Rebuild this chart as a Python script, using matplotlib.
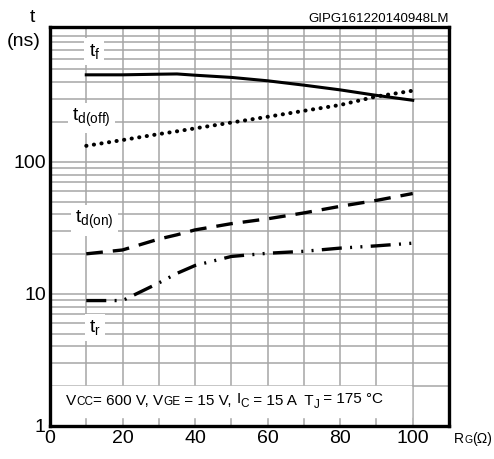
import numpy as np
import matplotlib
matplotlib.use('Agg')
import matplotlib.pyplot as plt

plt.rcParams['font.family'] = ['Liberation Sans', 'DejaVu Sans']
plt.rcParams['mathtext.fontset'] = 'custom'
plt.rcParams['mathtext.rm'] = 'Liberation Sans'

# data (RG in ohm, t in ns)
rg = [10, 20, 30, 35, 40, 50, 60, 70, 80, 90, 100]
tf = [455, 455, 460, 462, 452, 435, 410, 380, 350, 318, 292]
td_off = [132, 146, 162, 170, 179, 198, 219, 243, 269, 312, 345]
td_on = [20.1, 21.5, 26, 28, 30.5, 34, 37, 41, 46, 51, 57.5]
tr = [8.9, 8.9, 12.1, 14.3, 16.4, 19.2, 20.3, 21.0, 22.2, 23.1, 24.2]

xticks = [0, 20, 40, 60, 80, 100]
yticks = [1, 10, 100]

W, H = 494, 459
fig = plt.figure(figsize=(W/100, H/100), dpi=100)
ax = fig.add_axes([50/W, 33/H, 399/W, 399/H])
renderer = fig.canvas.get_renderer()


def rich(x0, y0, pieces, zorder=5):
    """write text pieces one after another, starting at pixel (x0, y0)"""
    x = x0
    for s, size, dy in pieces:
        t = fig.text(x/W, 1-(y0-dy)/H, s, fontsize=size, ha='left',
                     va='baseline', zorder=zorder)
        x += t.get_window_extent(renderer).width


# grid
grid_c = '#a6a6a6'
for x in range(10, 110, 10):
    ax.axvline(x, color=grid_c, lw=1.1, zorder=1)
for dec in [1, 10, 100]:
    for m in range(1, 10):
        v = dec*m
        if 1 < v < 1050:
            ax.axhline(v, color=grid_c, lw=1.1, zorder=1)

# curves
ax.plot(rg, tf, color='k', lw=2.2, zorder=3)
ax.plot(rg, td_off, color='k', lw=2.9, ls=(0, (0.05, 1.85)),
        dash_capstyle='round', zorder=3)
ax.plot(rg, td_on, color='k', lw=2.4, ls=(0, (5, 3)), zorder=3)
ax.plot(rg, tr, color='k', lw=2.4,
        ls=(0, (6, 2.5, 0.6, 2.5, 0.6, 2.5)), zorder=3)

# curve labels
box = dict(fc='w', ec='none', pad=3)
ax.text(12.2, 680, r'$\mathregular{t_f}$', fontsize=14, ha='center',
        va='center', bbox=box, zorder=4)
ax.text(11.4, 215, r'$\mathregular{t_{d(off)}}$', fontsize=14, ha='center',
        va='center', bbox=box, zorder=4)
ax.text(12.2, 36, r'$\mathregular{t_{d(on)}}$', fontsize=14, ha='center',
        va='center', bbox=box, zorder=4)
ax.text(12.5, 5.6, r'$\mathregular{t_r}$', fontsize=14, ha='center',
        va='center', bbox=box, zorder=4)

# conditions box
ax.fill_between([0.3, 99.6], 2.0, 1.16, color='w', zorder=2)
rich(66, 405, [('V', 11, 0), ('CC', 8.5, 0), ('= 600 V, V', 11, 0),
               ('GE', 8.5, 0), (' = 15 V, ', 11, 0), ('I', 11, 2),
               ('C', 8.5, -2), (' = 15 A  T', 11, 0), ('J', 8.5, -3),
               (' = 175 °C', 11, 2)])

ax.set_xlim(0, 110)
ax.set_yscale('log')
ax.set_ylim(1, 10**3.02)
ax.set_xticks(xticks)
ax.set_xticklabels([str(v) for v in xticks], fontsize=14)
ax.set_yticks(yticks)
ax.set_yticklabels([str(v) for v in yticks], fontsize=14)
ax.yaxis.set_minor_locator(matplotlib.ticker.NullLocator())
ax.tick_params(length=0, pad=3)
for s in ax.spines.values():
    s.set_linewidth(2.4)

fig.text(32/W, 1-17/H, 't', fontsize=14, ha='center', va='center')
fig.text(24/W, 1-42/H, '(ns)', fontsize=14, ha='center', va='center')
fig.text(449/W, 1-19/H, 'GIPG161220140948LM', fontsize=9.5,
         ha='right', va='center')
rich(454, 443, [('R', 10, 0), ('G', 7.5, 0), ('(Ω)', 10, 0)])

fig.savefig('out.png', dpi=100)
